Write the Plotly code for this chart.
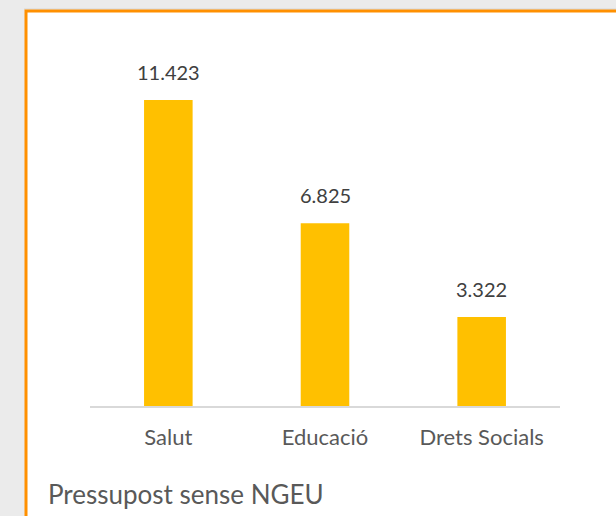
import plotly.graph_objects as go

# dades del gràfic
categories = ["Salut", "Educació", "Drets Socials"]
values = [11.423, 6.825, 3.322]
value_labels = ["11.423", "6.825", "3.322"]
title_text = "Pressupost sense NGEU"

BAR_COLOR = "#FFC000"
BORDER_COLOR = "#FF9000"
FONT = "Lato"

W, H = 616, 516
ML, MR, MT, MB = 90, 56, 40, 110
plot_w = W - ML - MR
plot_h = H - MT - MB


def px_x(p):
    # pixel -> coordenada paper
    return (p - ML) / plot_w


def px_y(p):
    return (H - MB - p) / plot_h


fig = go.Figure()
fig.add_trace(go.Bar(
    x=categories,
    y=values,
    marker=dict(color=BAR_COLOR, line=dict(width=0)),
    width=0.31,
    hoverinfo="skip",
))

# etiquetes de valor sobre les barres
for c, v, t in zip(categories, values, value_labels):
    fig.add_annotation(
        x=c, y=v, text=t, showarrow=False,
        yanchor="bottom", yshift=14,
        font=dict(family=FONT, size=20, color="#404040"),
    )

# títol a la part inferior
fig.add_annotation(
    xref="paper", yref="paper",
    x=px_x(46), y=px_y(494),
    xanchor="left", yanchor="middle",
    text=title_text, showarrow=False,
    font=dict(family=FONT, size=26, color="#595959"),
)

# fina línia grisa sobre la vora
fig.add_shape(
    type="line", xref="paper", yref="paper", layer="below",
    x0=px_x(24), x1=px_x(640), y0=px_y(9), y1=px_y(9),
    line=dict(color="#D6D6D6", width=1),
)

# requadre blanc amb vora taronja
fig.add_shape(
    type="rect", xref="paper", yref="paper", layer="below",
    x0=px_x(26), x1=px_x(640), y0=px_y(560), y1=px_y(11),
    fillcolor="white", line=dict(color=BORDER_COLOR, width=3),
)

fig.update_layout(
    width=W, height=H,
    margin=dict(l=ML, r=MR, t=MT, b=MB),
    paper_bgcolor="#EBEBEB",
    plot_bgcolor="rgba(0,0,0,0)",
    showlegend=False,
    font=dict(family=FONT),
    xaxis=dict(
        showline=True, linecolor="#D9D9D9", linewidth=1.5,
        showgrid=False, zeroline=False,
        ticks="outside", ticklen=11, tickcolor="rgba(0,0,0,0)",
        tickfont=dict(family=FONT, size=22, color="#595959"),
        fixedrange=True,
    ),
    yaxis=dict(
        range=[0, max(values) * 366 / 306],
        visible=False, showgrid=False, zeroline=False,
        fixedrange=True,
    ),
)

# sense marge al body perquè la figura ompli la finestra
fig.write_html(
    "out.html",
    config={"displayModeBar": False},
    post_script="document.body.style.margin='0';document.body.style.overflow='hidden';",
)
